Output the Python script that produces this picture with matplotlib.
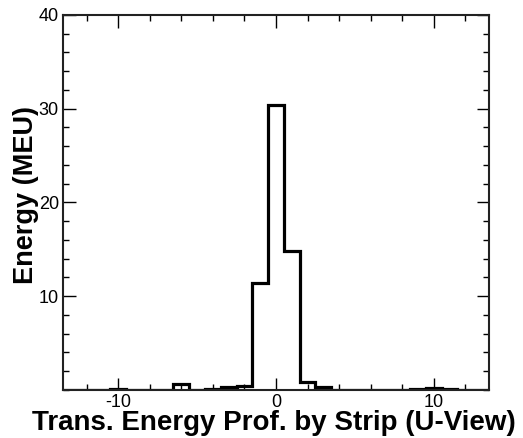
import numpy as np
import matplotlib
matplotlib.use('Agg')
import matplotlib.pyplot as plt
from matplotlib.ticker import MultipleLocator

plt.rcParams['font.family'] = ['Liberation Sans', 'DejaVu Sans']
plt.rcParams['axes.unicode_minus'] = False

# strip index (bin centres) and energy per strip
strips = np.arange(-13, 14)
energy = [0.05, 0.05, 0.05, 0.1, 0.05, 0.05, 0.05, 0.6, 0.05, 0.15, 0.3, 0.4,
          11.4, 30.4, 14.8, 0.9, 0.3, 0.05, 0.05, 0.05, 0.05, 0.05, 0.1, 0.2,
          0.15, 0.05, 0.05]

xlabel = 'Trans. Energy Prof. by Strip (U-View)'
ylabel = 'Energy (MEU)'

fig = plt.figure(figsize=(5.23, 4.38), dpi=100)
ax = fig.add_axes([0.1205, 0.1096, 0.8145, 0.8562])

edges = np.append(strips - 0.5, strips[-1] + 0.5)
ax.stairs(energy, edges, color='black', lw=2.3, baseline=0)

ax.set_xlim(-13.5, 13.5)
ax.set_ylim(0, 40)
ax.xaxis.set_major_locator(MultipleLocator(10))
ax.xaxis.set_minor_locator(MultipleLocator(2))
ax.yaxis.set_minor_locator(MultipleLocator(2))
ax.set_yticks([10, 20, 30, 40])

ax.tick_params(which='both', direction='in', top=True, right=True, labelsize=13)
ax.tick_params(axis='x', pad=3)
ax.tick_params(axis='y', pad=3)
ax.tick_params(which='major', length=9, width=1)
ax.tick_params(which='minor', length=4.5, width=1)
for s in ax.spines.values():
    s.set_linewidth(1.5)
    s.set_color('#222222')

ax.set_xlabel(xlabel, fontsize=20, fontweight='bold', va='baseline')
ax.xaxis.set_label_coords(0.496, -0.107)
ax.set_ylabel(ylabel, fontsize=19.5, fontweight='bold', va='center')
ax.yaxis.set_label_coords(-0.087, 0.519)

fig.savefig('out.png', dpi=100)
